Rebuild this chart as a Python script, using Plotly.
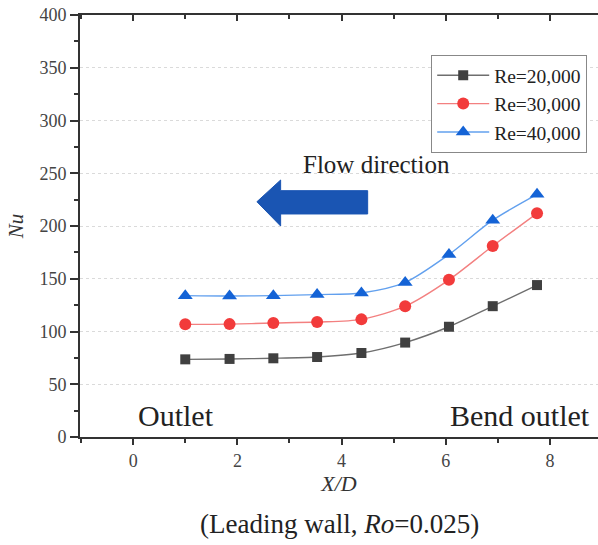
import plotly.graph_objects as go

x_d = [1.0, 1.85, 2.69, 3.53, 4.38, 5.22, 6.06, 6.9, 7.75]
nu_re20k = [73.6, 74, 74.6, 75.8, 79.6, 89.5, 104.5, 124, 144]
nu_re30k = [106.8, 107, 108, 109, 111.5, 124, 149, 181, 212]
nu_re40k = [134, 133.6, 134, 135, 136.5, 146.5, 173, 205.5, 230]
series_names = ["Re=20,000", "Re=30,000", "Re=40,000"]
x_ticks = [0, 2, 4, 6, 8]
y_ticks = [0, 50, 100, 150, 200, 250, 300, 350, 400]

SERIF = "Liberation Serif, Times New Roman, serif"

fig = go.Figure()
styles = [
    (nu_re20k, "#6e6e6e", "#404040", "square", 10),
    (nu_re30k, "#f38080", "#f23b3b", "circle", 12),
    (nu_re40k, "#62a0ee", "#1463d6", "triangle-up", 13),
]
for name, (vals, lc, mc, sym, sz) in zip(series_names, styles):
    fig.add_trace(go.Scatter(
        x=x_d, y=vals, name=name, mode="lines+markers",
        line=dict(color=lc, width=1.4, shape="spline", smoothing=0.8),
        marker=dict(color=mc, symbol=sym, size=sz),
    ))

# dummy trace to render the top mirror axis
fig.add_trace(go.Scatter(x=[None], y=[None], xaxis="x2", showlegend=False, hoverinfo="skip"))

xr = [-1.02, 8.92]
fig.update_layout(
    width=598, height=545,
    margin=dict(l=80, r=0, t=15, b=108),
    paper_bgcolor="white", plot_bgcolor="white",
    font=dict(family=SERIF, color="#333"),
    showlegend=True,
    legend=dict(
        x=0.678, y=0.905, xanchor="left", yanchor="top",
        bordercolor="#888", borderwidth=1, bgcolor="white",
        font=dict(family=SERIF, size=19.5, color="#222"),
        tracegroupgap=0, itemwidth=52,
    ),
    xaxis=dict(
        range=xr, tickvals=x_ticks, ticks="outside", ticklen=6, tickwidth=2,
        tickcolor="#333", showline=True, linecolor="#333", linewidth=2,
        showgrid=False, zeroline=False,
        tickfont=dict(family=SERIF, size=18, color="#444"),
        minor=dict(dtick=1, tick0=0, ticks="outside", ticklen=4, tickwidth=2, tickcolor="#333"),
        title=dict(text="<i>X/D</i>", font=dict(family=SERIF, size=22, color="#333"), standoff=6),
    ),
    xaxis2=dict(
        range=xr, overlaying="x", side="top", tickvals=x_ticks, showticklabels=False,
        ticks="inside", ticklen=6, tickwidth=2, tickcolor="#333",
        showline=True, linecolor="#333", linewidth=2, showgrid=False, zeroline=False,
        minor=dict(dtick=1, tick0=0, ticks="inside", ticklen=4, tickwidth=2, tickcolor="#333"),
    ),
    yaxis=dict(
        range=[0, 400], tickvals=y_ticks, ticks="outside", ticklen=8, tickwidth=2,
        tickcolor="#333", showline=True, linecolor="#333", linewidth=2,
        showgrid=True, gridcolor="#dadada", griddash="dot", gridwidth=1,
        zeroline=False,
        tickfont=dict(family=SERIF, size=18, color="#444"),
        minor=dict(dtick=25, tick0=0, ticks="outside", ticklen=4, tickwidth=2, tickcolor="#333", showgrid=False),
        title=dict(text="<i>Nu</i>", font=dict(family=SERIF, size=21, color="#333"), standoff=10),
    ),
)

# Flow direction arrow
fig.add_shape(
    type="path", xref="x", yref="y",
    path="M 2.375 223 L 2.83 243.6 L 2.83 233.5 L 4.5 233.5 L 4.5 211.4 L 2.83 211.4 L 2.83 200 Z",
    fillcolor="#1a55b3", line=dict(color="#1a55b3", width=1),
)

fig.add_annotation(x=4.67, y=258, xref="x", yref="y", text="Flow direction", showarrow=False,
                   font=dict(family=SERIF, size=25, color="#222"))
fig.add_annotation(x=0.05, y=20, xref="x", yref="y", text="Outlet", showarrow=False,
                   xanchor="left", font=dict(family=SERIF, size=30, color="#222"))
fig.add_annotation(x=8.8, y=20, xref="x", yref="y", text="Bend outlet", showarrow=False,
                   xanchor="right", font=dict(family=SERIF, size=30, color="#222"))
fig.add_annotation(x=0.5, y=-0.205, xref="paper", yref="paper", yanchor="middle",
                   text="(Leading wall, <i>Ro</i>=0.025)", showarrow=False,
                   font=dict(family=SERIF, size=27, color="#222"))

fig.write_html("out.html")
